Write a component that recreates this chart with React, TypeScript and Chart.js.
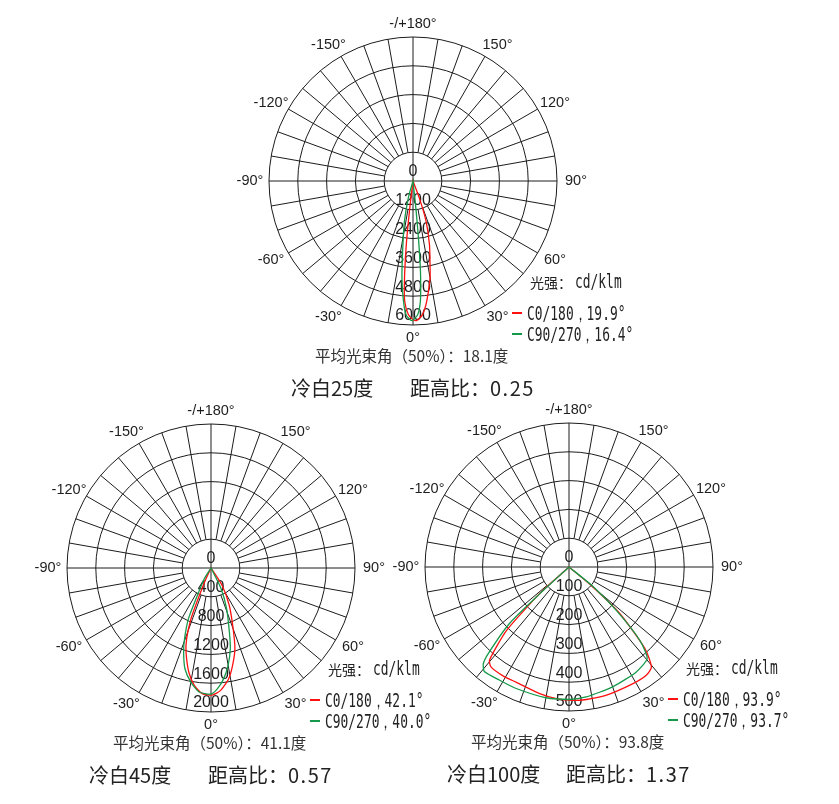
import React, { useEffect, useRef } from 'react';
import { Chart, registerables } from 'chart.js';

Chart.register(...registerables);

// half-degree slots round the circle, gamma 0 at the bottom, +90 on the right
const SLOTS = 720;
const angleSlots = Array.from({ length: SLOTS }, (_, i) => String(i / 2));
const outerLabels = [180, 150, 120, 90, 60, 30, 0, -30, -60, -90, -120, -150];

const RED = '#ff1010';
const GREEN = '#16994a';

// 冷白25度  [gamma, cd/klm]
const cd25Max = 6000;
const cd25C0 = [
  [-90, 0], [-8, 0], [-7, 750], [-6.5, 1700], [-6, 2700], [-5, 4050], [-4, 5000], [-2, 5570],
  [0, 5780], [1.5, 5820], [4, 5590], [6.5, 5050], [10, 4100], [11.5, 3560], [14.5, 2740],
  [18, 1760], [20.5, 760], [22, 0], [90, 0],
];
const cd25C90 = [
  [-90, 0], [-18, 0], [-15.5, 730], [-12, 1720], [-9, 2690], [-6.5, 4070], [-4.5, 5030], [-3, 5580],
  [-0.5, 5820], [2, 5575], [3.5, 5020], [4.5, 4060], [5, 3300], [5.5, 2300], [6, 1200], [6.5, 0], [90, 0],
];

// 冷白45度
const cd45Max = 2000;
const cd45C0 = [
  [-90, 0], [-27, 0], [-25, 165], [-23, 410], [-21.5, 760], [-19, 1040], [-16.5, 1220], [-12, 1480],
  [-8, 1650], [-4, 1750], [0.5, 1765], [4.5, 1705], [9, 1560], [12.5, 1385], [16.5, 1170],
  [20, 900], [26, 580], [32.5, 285], [35, 0], [90, 0],
];
const cd45C90 = [
  [-90, 0], [-34, 0], [-32, 175], [-26, 475], [-24, 770], [-20.5, 1050], [-18, 1230], [-14.5, 1445],
  [-10, 1610], [-5.5, 1730], [0, 1750], [3, 1680], [6.5, 1550], [10, 1370], [13.5, 1150],
  [16, 925], [21, 605], [26, 320], [28.5, 0], [90, 0],
];

// 冷白100度
const cd100Max = 500;
const cd100C0 = [
  [-90, 0], [-52, 0], [-48.5, 105], [-47, 170], [-44.5, 310], [-40.5, 425], [-38, 440], [-31, 442],
  [-24.5, 440], [-13, 451], [-5.5, 459], [1.5, 463], [7.5, 464], [16, 464], [28.5, 462],
  [35.5, 462], [39.5, 450], [43, 386], [47.5, 239], [50, 108], [52.5, 0], [90, 0],
];
const cd100C90 = [
  [-90, 0], [-50.5, 0], [-47.5, 138], [-46.5, 285], [-43, 412], [-41.5, 449], [-39, 467], [-31.5, 461],
  [-23.5, 460], [-10, 461], [0, 460], [7.5, 455], [20, 443], [32.5, 433], [40.5, 418],
  [44, 354], [47.5, 223], [51, 105], [54, 0], [90, 0],
];

const slotOf = (g: number) => ((Math.round(-g * 2) % SLOTS) + SLOTS) % SLOTS;

function toSlots(pairs: number[][]) {
  const out: (number | null)[] = new Array(SLOTS).fill(null);
  pairs.forEach(([g, v]) => { out[slotOf(g)] = v; });
  return out;
}

const polarGrid = {
  id: 'polarGrid',
  beforeDatasetsDraw(chart: any) {
    const r = chart.scales.r;
    const ctx = chart.ctx;
    const R = r.drawingArea;
    const inner = r.getDistanceFromCenterForValue(r.options.ticks.stepSize);
    ctx.save();
    ctx.strokeStyle = '#1c1c1c';
    ctx.lineWidth = 1;
    ctx.beginPath();
    for (let g = -170; g <= 180; g += 10) {
      const from = g % 90 === 0 ? 0 : inner;
      const p0 = r.getPointPosition(slotOf(g), from);
      const p1 = r.getPointPosition(slotOf(g), R);
      ctx.moveTo(p0.x, p0.y);
      ctx.lineTo(p1.x, p1.y);
    }
    ctx.stroke();

    ctx.fillStyle = '#1e1e1e';
    ctx.textAlign = 'center';
    ctx.textBaseline = 'middle';
    ctx.font = '16px "Liberation Sans", Arial, sans-serif';
    r.ticks.forEach((t: any) => {
      ctx.fillText(String(t.value), r.xCenter, r.yCenter + r.getDistanceFromCenterForValue(t.value) - 9);
    });

    ctx.font = '14.5px "Liberation Sans", Arial, sans-serif';
    outerLabels.forEach((g) => {
      const text = g === 180 ? '-/+180°' : `${g}°`;
      const s = Math.sin((g * Math.PI) / 180);
      const p = r.getPointPosition(slotOf(g), R + 13);
      const shift = Math.abs(s) > 0.01 ? Math.sign(s) * 6 : 0;
      ctx.fillText(text, p.x + shift, p.y);
    });
    ctx.restore();
  },
};

const monoStyle: React.CSSProperties = {
  display: 'inline-block',
  fontFamily: '"DejaVu Sans Mono", monospace',
  fontSize: 19,
  transform: 'scaleX(0.68)',
  transformOrigin: 'left center',
};

function Text({ left, y, h, style, children }: any) {
  return (
    <div style={{ position: 'absolute', left, top: y - h / 2, height: h, lineHeight: `${h}px`, whiteSpace: 'nowrap', color: '#222', ...style }}>
      {children}
    </div>
  );
}

function Dash({ left, y, color }: any) {
  return <div style={{ position: 'absolute', left, top: y - 0.75, width: 10, height: 1.5, background: color }} />;
}

function PolarChart({ cx, cy, max, c0, c90, beam0, beam90, avg, lamp, ratio }: any) {
  const chartRef: any = useRef(null);

  useEffect(() => {
    const chartInstance = new Chart(chartRef.current, {
      type: 'radar',
      data: {
        labels: angleSlots,
        datasets: [
          { label: 'C90/270', data: toSlots(c90), borderColor: GREEN, borderWidth: 1.3, pointRadius: 0, fill: false, spanGaps: true, tension: 0.2 },
          { label: 'C0/180', data: toSlots(c0), borderColor: RED, borderWidth: 1.3, pointRadius: 0, fill: false, spanGaps: true, tension: 0.2 },
        ],
      },
      options: {
        responsive: false,
        animation: false,
        events: [],
        layout: { padding: 56 },
        plugins: { legend: { display: false }, tooltip: { enabled: false } },
        scales: {
          r: {
            min: 0,
            max,
            startAngle: 180,
            ticks: { display: false, stepSize: max / 5 },
            grid: { circular: true, color: '#1c1c1c', lineWidth: 1 },
            angleLines: { display: false },
            pointLabels: { display: false },
          },
        },
      } as any,
      plugins: [polarGrid],
    });

    return () => {
      chartInstance.destroy();
    };
  }, []);

  const cjk = '"Noto Sans CJK SC", sans-serif';
  return (
    <>
      <canvas ref={chartRef} width={400} height={400} style={{ position: 'absolute', left: cx - 200, top: cy - 200 }} />
      <Text left={cx + 117} y={cy + 100} h={22}>
        <span style={{ fontFamily: cjk, fontSize: 14 }}>光强：</span>
        <span style={{ ...monoStyle, marginLeft: 3 }}>cd/klm</span>
      </Text>
      <Dash left={cx + 99} y={cy + 132} color={RED} />
      <Text left={cx + 114} y={cy + 132} h={22}><span style={monoStyle}>{`C0/180，${beam0}°`}</span></Text>
      <Dash left={cx + 99} y={cy + 153} color={GREEN} />
      <Text left={cx + 114} y={cy + 153} h={22}><span style={monoStyle}>{`C90/270，${beam90}°`}</span></Text>
      <Text left={cx - 98} y={cy + 174} h={20} style={{ fontFamily: cjk, fontSize: 15.5, color: '#333' }}>
        {`平均光束角（50%）：${avg}度`}
      </Text>
      <Text left={cx - 122} y={cy + 207} h={26} style={{ fontFamily: cjk, fontSize: 20 }}>{`冷白${lamp}度`}</Text>
      <Text left={cx - 3} y={cy + 207} h={26} style={{ fontFamily: cjk, fontSize: 20 }}>
        距高比：<span style={{ letterSpacing: 1.5 }}>{ratio}</span>
      </Text>
    </>
  );
}

export default function App() {
  return (
    <div style={{ position: 'absolute', left: 0, top: 0, width: 839, height: 804, overflow: 'hidden', background: '#fff' }}>
      <PolarChart cx={413} cy={181} max={cd25Max} c0={cd25C0} c90={cd25C90} beam0="19.9" beam90="16.4" avg="18.1" lamp="25" ratio="0.25" />
      <PolarChart cx={211} cy={568} max={cd45Max} c0={cd45C0} c90={cd45C90} beam0="42.1" beam90="40.0" avg="41.1" lamp="45" ratio="0.57" />
      <PolarChart cx={569} cy={567} max={cd100Max} c0={cd100C0} c90={cd100C90} beam0="93.9" beam90="93.7" avg="93.8" lamp="100" ratio="1.37" />
    </div>
  );
}
